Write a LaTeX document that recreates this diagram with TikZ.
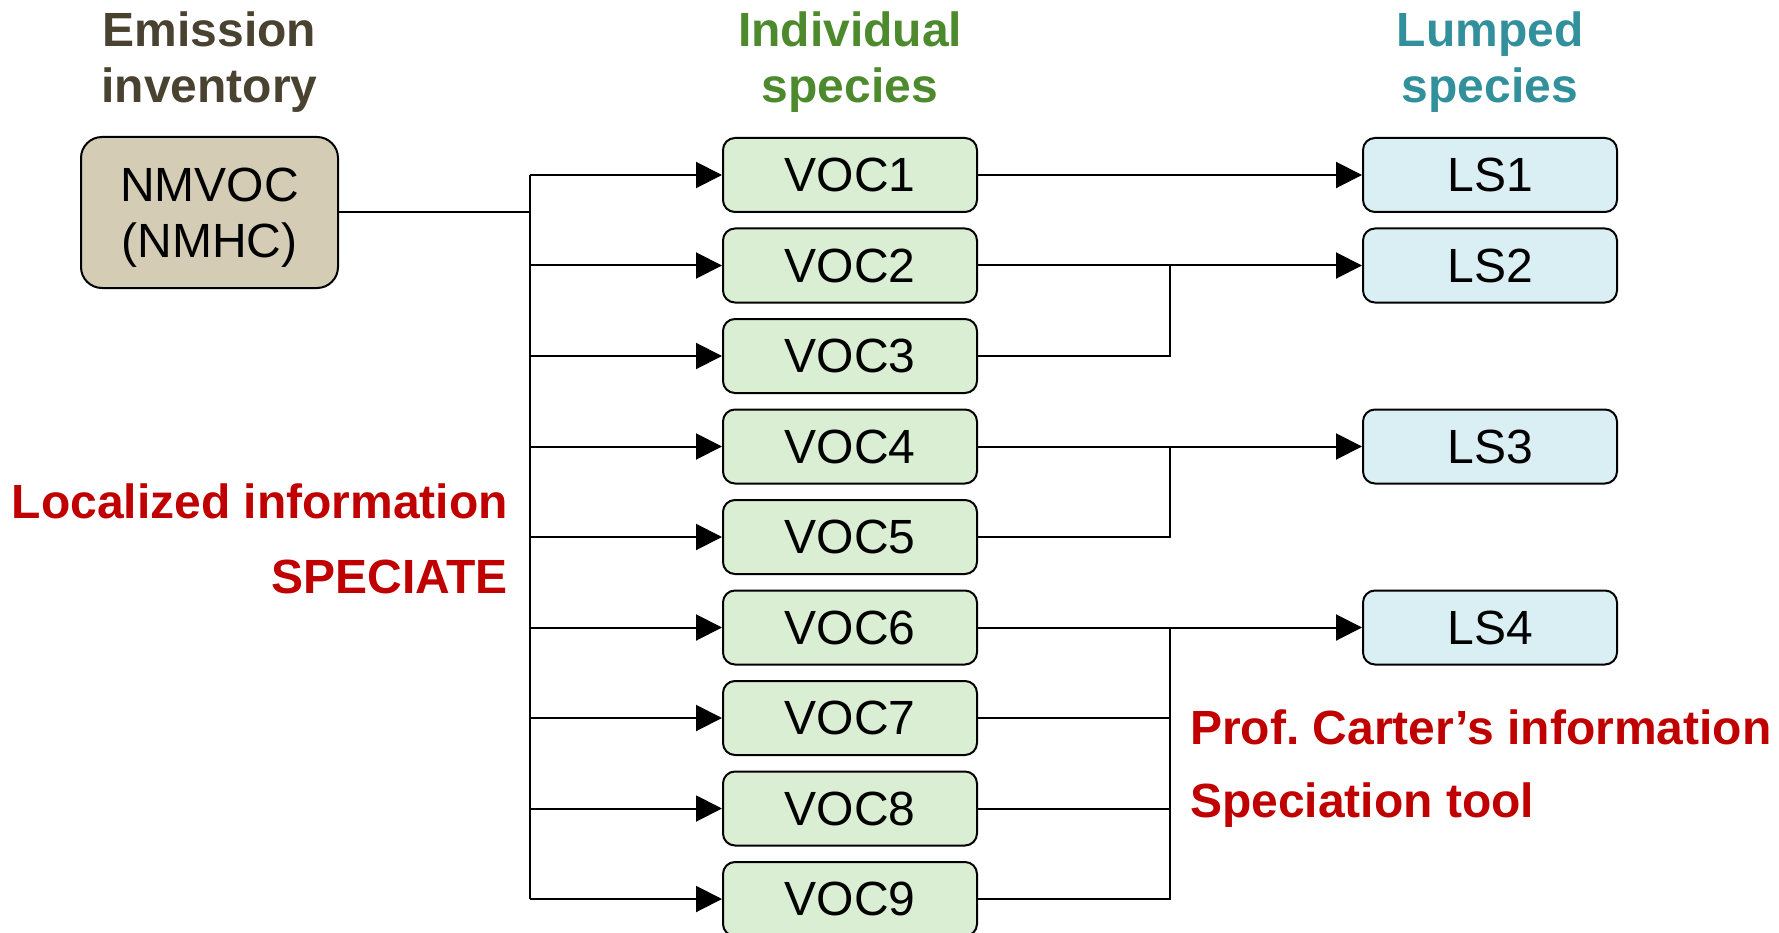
\documentclass[tikz,border=0pt]{standalone}
\usepackage{fontspec}
\setmainfont{Liberation Sans}
\usetikzlibrary{arrows.meta}
\definecolor{titlebrown}{HTML}{4A4231}
\definecolor{titlegreen}{HTML}{4D8A2E}
\definecolor{titleteal}{HTML}{31909B}
\definecolor{infored}{HTML}{C00000}
\definecolor{srcfill}{HTML}{D5CCB6}
\definecolor{vocfill}{HTML}{DAEED3}
\definecolor{lsfill}{HTML}{DAEFF3}
\frenchspacing
\begin{document}
\begin{tikzpicture}[x=1pt,y=-1pt,
  boxbase/.style={draw=black, line width=2pt, rounded corners=12pt, inner sep=0pt,
    font=\fontsize{48}{56}\selectfont, align=center},
  srcbox/.style={boxbase, rounded corners=21pt, fill=srcfill, minimum width=257pt,
    minimum height=151pt, text depth=0pt},
  vocbox/.style={boxbase, fill=vocfill, minimum width=254pt, minimum height=74pt},
  lsbox/.style={boxbase, fill=lsfill, minimum width=254pt, minimum height=74pt},
  titletext/.style={inner sep=0pt, anchor=base, font=\fontsize{48}{56}\selectfont\bfseries},
  redtext/.style={inner sep=0pt, text=infored, font=\fontsize{48}{58}\selectfont\bfseries},
  wire/.style={line width=2pt},
  arr/.style={wire, -{Triangle[length=26pt,width=26pt]}}]
\useasboundingbox (0,0) rectangle (1779,933);

% titles
\node[titletext, text=titlebrown] (t1a) at (209.5,47) {Emission};
\node[titletext, text=titlebrown] (t1b) at (209.5,103) {inventory};
\node[titletext, text=titlegreen] (t2a) at (850,47) {Individual};
\node[titletext, text=titlegreen] (t2b) at (850,103) {species};
\node[titletext, text=titleteal] (t3a) at (1490,47) {Lumped};
\node[titletext, text=titleteal] (t3b) at (1490,103) {species};

% source
\node[srcbox] (src) at (209.5,212.5) {NMVOC\\(NMHC)};

% individual species
\foreach \i in {1,...,9}{
  \node[vocbox] (v\i) at (850,{175+90.5*(\i-1)}) {VOC\i};
}

% lumped species
\node[lsbox] (ls1) at (1490,175) {LS1};
\node[lsbox] (ls2) at (1490,265.5) {LS2};
\node[lsbox] (ls3) at (1490,446.5) {LS3};
\node[lsbox] (ls4) at (1490,627.5) {LS4};

% red annotations
\node[redtext, anchor=base east] (loc) at (508,518) {Localized information};
\node[redtext, anchor=base east] (spe) at (508,593) {SPECIATE};
\node[redtext, anchor=base west] (car) at (1190,744) {Prof. Carter’s information};
\node[redtext, anchor=base west] (tool) at (1190,817) {Speciation tool};

% distribution bus
\coordinate (bus) at (530,212.5);
\draw[wire] (src.east) -- (bus |- src.east);
\draw[wire] (bus |- v1.west) -- (bus |- v9.west);
\foreach \i in {1,...,9}{
  \draw[arr] (bus |- v\i.west) -- (v\i.west);
}

% lumping
\coordinate (mg) at (1170,0);
\draw[arr] (v1.east) -- (ls1.west);
\draw[arr] (v2.east) -- (ls2.west);
\draw[wire] (v3.east) -| (mg |- v2.east);
\draw[arr] (v4.east) -- (ls3.west);
\draw[wire] (v5.east) -| (mg |- v4.east);
\draw[arr] (v6.east) -- (ls4.west);
\draw[wire] (v9.east) -| (mg |- v6.east);
\draw[wire] (v7.east) -- (mg |- v7.east);
\draw[wire] (v8.east) -- (mg |- v8.east);
\end{tikzpicture}
\end{document}
